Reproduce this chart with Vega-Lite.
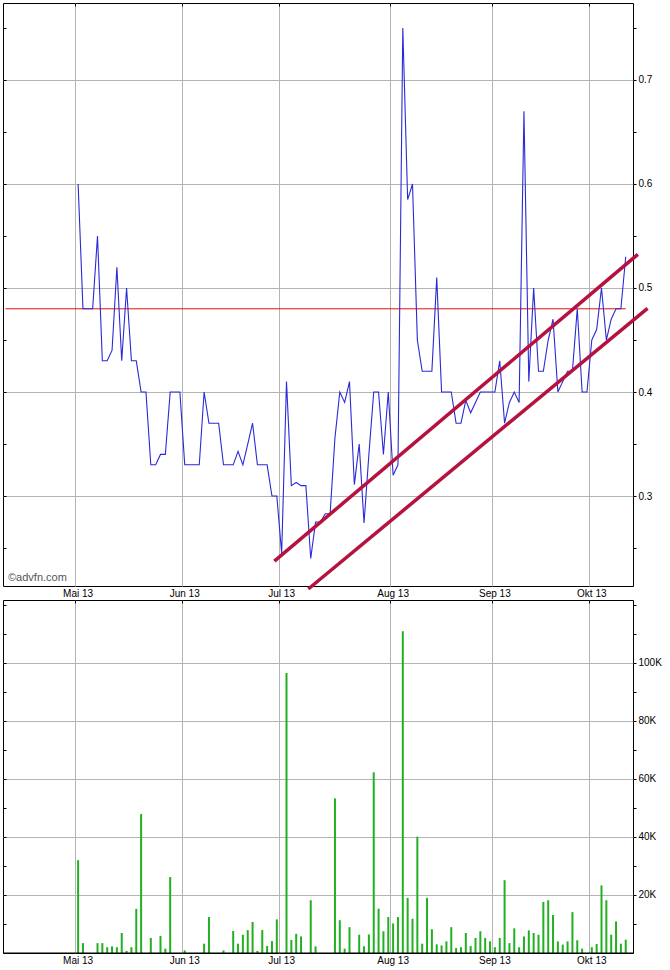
{
  "$schema": "https://vega.github.io/schema/vega-lite/v6.json",
  "padding": {"left": 2, "top": 2, "right": 2, "bottom": 0},
  "autosize": {"type": "pad"},
  "spacing": 0,
  "resolve": {"scale": {"x": "shared"}},
  "config": {
    "view": {"stroke": "#000000", "strokeWidth": 1},
    "axis": {"labelFont": "Liberation Sans", "labelFontSize": 10, "labelColor": "#000000", "gridColor": "#b4b4b4", "gridWidth": 1, "domain": false}
  },
  "data": {"values": [
    {"date": "2013-04-10", "price": null, "volume": null},
    {"date": "2013-04-11", "price": null, "volume": null},
    {"date": "2013-04-12", "price": null, "volume": null},
    {"date": "2013-04-15", "price": null, "volume": null},
    {"date": "2013-04-16", "price": null, "volume": null},
    {"date": "2013-04-17", "price": null, "volume": null},
    {"date": "2013-04-18", "price": null, "volume": null},
    {"date": "2013-04-19", "price": null, "volume": null},
    {"date": "2013-04-22", "price": null, "volume": null},
    {"date": "2013-04-23", "price": null, "volume": null},
    {"date": "2013-04-24", "price": null, "volume": null},
    {"date": "2013-04-25", "price": null, "volume": null},
    {"date": "2013-04-26", "price": null, "volume": null},
    {"date": "2013-04-29", "price": null, "volume": null},
    {"date": "2013-04-30", "price": null, "volume": null},
    {"date": "2013-05-02", "price": 0.60, "volume": 32000},
    {"date": "2013-05-03", "price": 0.48, "volume": 3400},
    {"date": "2013-05-06", "price": 0.48, "volume": null},
    {"date": "2013-05-07", "price": 0.48, "volume": null},
    {"date": "2013-05-08", "price": 0.55, "volume": 3400},
    {"date": "2013-05-09", "price": 0.43, "volume": 3400},
    {"date": "2013-05-10", "price": 0.43, "volume": 2000},
    {"date": "2013-05-13", "price": 0.44, "volume": 2300},
    {"date": "2013-05-14", "price": 0.52, "volume": 2000},
    {"date": "2013-05-15", "price": 0.43, "volume": 6900},
    {"date": "2013-05-16", "price": 0.50, "volume": 700},
    {"date": "2013-05-17", "price": 0.43, "volume": 2000},
    {"date": "2013-05-20", "price": 0.43, "volume": 15200},
    {"date": "2013-05-21", "price": 0.40, "volume": 47900},
    {"date": "2013-05-22", "price": 0.40, "volume": null},
    {"date": "2013-05-23", "price": 0.33, "volume": 5200},
    {"date": "2013-05-24", "price": 0.33, "volume": null},
    {"date": "2013-05-27", "price": 0.34, "volume": 5900},
    {"date": "2013-05-28", "price": 0.34, "volume": 1500},
    {"date": "2013-05-29", "price": 0.40, "volume": 26200},
    {"date": "2013-05-30", "price": 0.40, "volume": null},
    {"date": "2013-05-31", "price": 0.40, "volume": null},
    {"date": "2013-06-03", "price": 0.33, "volume": 900},
    {"date": "2013-06-04", "price": 0.33, "volume": null},
    {"date": "2013-06-05", "price": 0.33, "volume": null},
    {"date": "2013-06-06", "price": 0.33, "volume": null},
    {"date": "2013-06-07", "price": 0.40, "volume": 3200},
    {"date": "2013-06-10", "price": 0.37, "volume": 12400},
    {"date": "2013-06-11", "price": 0.37, "volume": null},
    {"date": "2013-06-12", "price": 0.37, "volume": null},
    {"date": "2013-06-13", "price": 0.33, "volume": 900},
    {"date": "2013-06-14", "price": 0.33, "volume": null},
    {"date": "2013-06-17", "price": 0.33, "volume": 7600},
    {"date": "2013-06-18", "price": 0.343, "volume": 3200},
    {"date": "2013-06-19", "price": 0.33, "volume": 6300},
    {"date": "2013-06-20", "price": 0.35, "volume": 7900},
    {"date": "2013-06-21", "price": 0.37, "volume": 10700},
    {"date": "2013-06-24", "price": 0.33, "volume": 700},
    {"date": "2013-06-25", "price": 0.33, "volume": 7900},
    {"date": "2013-06-26", "price": 0.33, "volume": 2400},
    {"date": "2013-06-27", "price": 0.30, "volume": 4100},
    {"date": "2013-06-28", "price": 0.30, "volume": 11600},
    {"date": "2013-07-01", "price": 0.245, "volume": null},
    {"date": "2013-07-02", "price": 0.41, "volume": 96500},
    {"date": "2013-07-03", "price": 0.31, "volume": 4500},
    {"date": "2013-07-04", "price": 0.313, "volume": 6600},
    {"date": "2013-07-05", "price": 0.31, "volume": 5700},
    {"date": "2013-07-08", "price": 0.31, "volume": null},
    {"date": "2013-07-09", "price": 0.24, "volume": 18200},
    {"date": "2013-07-10", "price": 0.275, "volume": 2300},
    {"date": "2013-07-11", "price": 0.275, "volume": null},
    {"date": "2013-07-12", "price": 0.283, "volume": null},
    {"date": "2013-07-15", "price": 0.283, "volume": null},
    {"date": "2013-07-16", "price": 0.356, "volume": 53300},
    {"date": "2013-07-17", "price": 0.40, "volume": 11300},
    {"date": "2013-07-18", "price": 0.39, "volume": 1500},
    {"date": "2013-07-19", "price": 0.41, "volume": 8900},
    {"date": "2013-07-22", "price": 0.311, "volume": null},
    {"date": "2013-07-23", "price": 0.35, "volume": 6300},
    {"date": "2013-07-24", "price": 0.274, "volume": 2300},
    {"date": "2013-07-25", "price": 0.34, "volume": 6400},
    {"date": "2013-07-26", "price": 0.40, "volume": 62300},
    {"date": "2013-07-29", "price": 0.40, "volume": 15300},
    {"date": "2013-07-30", "price": 0.34, "volume": 7500},
    {"date": "2013-07-31", "price": 0.40, "volume": 12400},
    {"date": "2013-08-01", "price": 0.32, "volume": 10200},
    {"date": "2013-08-02", "price": 0.33, "volume": 12400},
    {"date": "2013-08-05", "price": 0.75, "volume": 110900},
    {"date": "2013-08-06", "price": 0.585, "volume": 19000},
    {"date": "2013-08-07", "price": 0.60, "volume": 11800},
    {"date": "2013-08-08", "price": 0.45, "volume": 40100},
    {"date": "2013-08-09", "price": 0.42, "volume": 3200},
    {"date": "2013-08-12", "price": 0.42, "volume": 19000},
    {"date": "2013-08-13", "price": 0.42, "volume": 8200},
    {"date": "2013-08-14", "price": 0.51, "volume": 3000},
    {"date": "2013-08-15", "price": 0.40, "volume": 2600},
    {"date": "2013-08-16", "price": 0.40, "volume": 4000},
    {"date": "2013-08-19", "price": 0.40, "volume": 8900},
    {"date": "2013-08-20", "price": 0.37, "volume": 1700},
    {"date": "2013-08-21", "price": 0.37, "volume": 2000},
    {"date": "2013-08-22", "price": 0.392, "volume": 6900},
    {"date": "2013-08-23", "price": 0.38, "volume": 2400},
    {"date": "2013-08-27", "price": 0.39, "volume": 5200},
    {"date": "2013-08-28", "price": 0.40, "volume": 7500},
    {"date": "2013-08-29", "price": 0.40, "volume": 5200},
    {"date": "2013-08-30", "price": 0.40, "volume": 4000},
    {"date": "2013-09-02", "price": 0.40, "volume": 2000},
    {"date": "2013-09-03", "price": 0.43, "volume": 5200},
    {"date": "2013-09-04", "price": 0.37, "volume": 25100},
    {"date": "2013-09-05", "price": 0.39, "volume": 3400},
    {"date": "2013-09-06", "price": 0.40, "volume": 8500},
    {"date": "2013-09-09", "price": 0.39, "volume": 2000},
    {"date": "2013-09-10", "price": 0.67, "volume": 5700},
    {"date": "2013-09-11", "price": 0.41, "volume": 7800},
    {"date": "2013-09-12", "price": 0.50, "volume": 6900},
    {"date": "2013-09-13", "price": 0.42, "volume": 6300},
    {"date": "2013-09-17", "price": 0.42, "volume": 17600},
    {"date": "2013-09-18", "price": 0.45, "volume": 18200},
    {"date": "2013-09-19", "price": 0.47, "volume": 13100},
    {"date": "2013-09-20", "price": 0.40, "volume": 4000},
    {"date": "2013-09-23", "price": 0.41, "volume": 2900},
    {"date": "2013-09-24", "price": 0.42, "volume": 4000},
    {"date": "2013-09-25", "price": 0.42, "volume": 14100},
    {"date": "2013-09-26", "price": 0.48, "volume": 4400},
    {"date": "2013-09-27", "price": 0.40, "volume": 1500},
    {"date": "2013-09-30", "price": 0.40, "volume": null},
    {"date": "2013-10-01", "price": 0.45, "volume": 2000},
    {"date": "2013-10-02", "price": 0.46, "volume": 3100},
    {"date": "2013-10-03", "price": 0.50, "volume": 23300},
    {"date": "2013-10-04", "price": 0.45, "volume": 18200},
    {"date": "2013-10-07", "price": 0.47, "volume": 6300},
    {"date": "2013-10-08", "price": 0.48, "volume": 10900},
    {"date": "2013-10-09", "price": 0.48, "volume": 3200},
    {"date": "2013-10-10", "price": 0.53, "volume": 4600},
    {"date": "2013-10-11", "price": null, "volume": null}
  ]},
  "vconcat": [
    {
      "width": 630,
      "height": 583,
      "resolve": {"axis": {"x": "independent", "y": "independent"}},
      "layer": [
        {
          "data": {"values": [
            {"date": "2013-04-10", "level": 0.48},
            {"date": "2013-10-10", "level": 0.48}
          ]},
          "mark": {"type": "line", "color": "#dd1111", "strokeWidth": 1},
          "encoding": {
            "x": {
              "field": "date", "type": "ordinal", "bandPosition": 0.5,
              "scale": {"type": "band", "paddingInner": 0, "paddingOuter": 0},
              "axis": {
                "title": null,
                "values": ["2013-05-02", "2013-06-03", "2013-07-01", "2013-08-01", "2013-09-02", "2013-10-01"],
                "bandPosition": 0,
                "labelExpr": "datum.value == '2013-05-02' ? 'Mai 13' : datum.value == '2013-06-03' ? 'Jun 13' : datum.value == '2013-07-01' ? 'Jul 13' : datum.value == '2013-08-01' ? 'Aug 13' : datum.value == '2013-09-02' ? 'Sep 13' : 'Okt 13'",
                "labelAngle": 0,
                "labelPadding": 2,
                "grid": true,
                "ticks": false,
                "domain": false
              }
            },
            "y": {
              "field": "level", "type": "quantitative",
              "scale": {"domain": [0.2135, 0.774], "nice": false, "zero": false},
              "axis": {
                "orient": "left", "title": null, "labels": false, "grid": false, "domain": false,
                "values": [0.25, 0.3, 0.35, 0.4, 0.45, 0.5, 0.55, 0.6, 0.65, 0.7, 0.75],
                "tickSize": -3, "tickColor": "#000000"
              }
            }
          }
        },
        {
          "mark": {"type": "line", "color": "#2a2ad6", "strokeWidth": 1.1, "invalid": "break-paths-show-domains"},
          "encoding": {
            "x": {"field": "date", "type": "ordinal", "bandPosition": 0.5,
                  "scale": {"type": "band", "paddingInner": 0, "paddingOuter": 0}, "axis": null},
            "y": {
              "field": "price", "type": "quantitative",
              "scale": {"domain": [0.2135, 0.774], "nice": false, "zero": false},
              "axis": {
                "orient": "right", "title": null, "domain": false,
                "values": [0.25, 0.3, 0.35, 0.4, 0.45, 0.5, 0.55, 0.6, 0.65, 0.7, 0.75],
                "labelExpr": "abs(datum.value * 10 - round(datum.value * 10)) < 0.001 ? format(datum.value, '.1f') : ''",
                "grid": true,
                "gridOpacity": {"condition": {"test": "abs(datum.value * 10 - round(datum.value * 10)) < 0.001", "value": 1}, "value": 0},
                "tickSize": 3, "tickColor": "#000000", "labelPadding": 2
              }
            }
          }
        },
        {
          "data": {"values": [
            {"date": "2013-06-26", "price": 0.2374, "channel": "upper"},
            {"date": "2013-10-11", "price": 0.5324, "channel": "upper"}
          ]},
          "mark": {"type": "line", "color": "#b5123f", "strokeWidth": 3.5, "clip": false},
          "encoding": {
            "x": {"field": "date", "type": "ordinal", "bandPosition": 2,
                  "scale": {"type": "band", "paddingInner": 0, "paddingOuter": 0},
                  "axis": {
                    "orient": "top", "title": null, "labels": false, "grid": false, "domain": false,
                    "values": ["2013-05-02", "2013-06-03", "2013-07-01", "2013-08-01", "2013-09-02", "2013-10-01"],
                    "bandPosition": 0, "tickSize": -3, "tickColor": "#000000"
                  }},
            "y": {"field": "price", "type": "quantitative",
                  "scale": {"domain": [0.2135, 0.774], "nice": false, "zero": false}, "axis": null},
            "detail": {"field": "channel", "type": "nominal"}
          }
        },
        {
          "data": {"values": [
            {"date": "2013-07-03", "price": 0.2106, "channel": "lower"},
            {"date": "2013-10-11", "price": 0.4805, "channel": "lower"}
          ]},
          "mark": {"type": "line", "color": "#b5123f", "strokeWidth": 3.5, "clip": false},
          "encoding": {
            "x": {"field": "date", "type": "ordinal", "bandPosition": 4,
                  "scale": {"type": "band", "paddingInner": 0, "paddingOuter": 0}, "axis": null},
            "y": {"field": "price", "type": "quantitative",
                  "scale": {"domain": [0.2135, 0.774], "nice": false, "zero": false}, "axis": null},
            "detail": {"field": "channel", "type": "nominal"}
          }
        },
        {
          "data": {"values": [{"label": "©advfn.com"}]},
          "mark": {"type": "text", "align": "left", "baseline": "alphabetic", "dx": 5, "font": "Liberation Sans", "fontSize": 11, "color": "#555555"},
          "encoding": {
            "x": {"datum": "2013-04-10", "type": "ordinal", "bandPosition": 0,
                  "scale": {"type": "band", "paddingInner": 0, "paddingOuter": 0}, "axis": null},
            "y": {"datum": 0.218, "type": "quantitative",
                  "scale": {"domain": [0.2135, 0.774], "nice": false, "zero": false}, "axis": null},
            "text": {"field": "label", "type": "nominal"}
          }
        }
      ]
    },
    {
      "width": 630,
      "height": 353,
      "resolve": {"axis": {"x": "independent", "y": "independent"}},
      "layer": [
        {
          "mark": {"type": "bar", "color": "#22b022", "width": 2, "invalid": "break-paths-show-domains"},
          "encoding": {
            "x": {
              "field": "date", "type": "ordinal",
              "scale": {"type": "band", "paddingInner": 0, "paddingOuter": 0},
              "axis": {
                "title": null,
                "values": ["2013-05-02", "2013-06-03", "2013-07-01", "2013-08-01", "2013-09-02", "2013-10-01"],
                "bandPosition": 0,
                "labelExpr": "datum.value == '2013-05-02' ? 'Mai 13' : datum.value == '2013-06-03' ? 'Jun 13' : datum.value == '2013-07-01' ? 'Jul 13' : datum.value == '2013-08-01' ? 'Aug 13' : datum.value == '2013-09-02' ? 'Sep 13' : 'Okt 13'",
                "labelAngle": 0,
                "labelPadding": 2,
                "grid": true,
                "ticks": false,
                "domain": false
              }
            },
            "y": {
              "field": "volume", "type": "quantitative",
              "scale": {"domain": [0, 121700], "nice": false},
              "axis": {
                "orient": "right", "title": null, "domain": false,
                "values": [10000, 20000, 30000, 40000, 50000, 60000, 70000, 80000, 90000, 100000, 110000, 120000],
                "labelExpr": "datum.value % 20000 == 0 && datum.value <= 100000 ? (datum.value / 1000) + 'K' : ''",
                "grid": true,
                "gridOpacity": {"condition": {"test": "datum.value % 20000 == 0 && datum.value <= 100000", "value": 1}, "value": 0},
                "tickSize": 3, "tickColor": "#000000", "labelPadding": 2
              }
            }
          }
        },
        {
          "data": {"values": [{"base": 0, "date": "2013-05-02"}]},
          "mark": {"type": "rule", "color": "#000000", "strokeWidth": 1},
          "encoding": {
            "y": {
              "field": "base", "type": "quantitative",
              "scale": {"domain": [0, 121700], "nice": false},
              "axis": {
                "orient": "left", "title": null, "labels": false, "grid": false, "domain": false,
                "values": [10000, 20000, 30000, 40000, 50000, 60000, 70000, 80000, 90000, 100000, 110000, 120000],
                "tickSize": -3, "tickColor": "#000000"
              }
            }
          }
        },
        {
          "data": {"values": [{"date": "2013-05-02"}]},
          "mark": {"type": "point", "opacity": 0},
          "encoding": {
            "x": {"field": "date", "type": "ordinal",
                  "scale": {"type": "band", "paddingInner": 0, "paddingOuter": 0},
                  "axis": {
                    "orient": "top", "title": null, "labels": false, "grid": false, "domain": false,
                    "values": ["2013-05-02", "2013-06-03", "2013-07-01", "2013-08-01", "2013-09-02", "2013-10-01"],
                    "bandPosition": 0, "tickSize": -3, "tickColor": "#000000"
                  }}
          }
        }
      ]
    }
  ]
}
